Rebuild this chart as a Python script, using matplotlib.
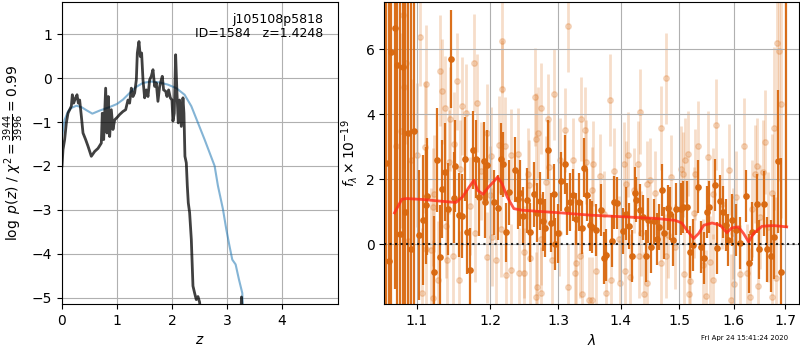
import matplotlib
matplotlib.use('Agg')
import matplotlib.pyplot as plt
from matplotlib.ticker import FixedLocator, FixedFormatter, NullLocator

# ---------------------------------------------------------
## p(z) panel
z_pz = [0.0, 0.018, 0.048, 0.079, 0.109, 0.139, 0.17, 0.188, 0.212, 0.248, 0.273, 0.297,
        0.321, 0.352, 0.382, 0.43, 0.473, 0.533, 0.594, 0.655, 0.715, 0.733, 0.758, 0.794,
        0.818, 0.842, 0.867, 0.897, 0.927, 0.958, 1.0, 1.048, 1.109, 1.158, 1.2, 1.23,
        1.261, 1.291, 1.321, 1.352, 1.37, 1.4, 1.424, 1.448, 1.473, 1.503, 1.533, 1.564,
        1.594, 1.624, 1.655, 1.685, 1.715, 1.745, 1.776, 1.806, 1.824, 1.848, 1.885, 1.909,
        1.939, 1.97, 2.0, 2.018, 2.042, 2.067, 2.091, 2.115, 2.139, 2.17, 2.2, 2.218,
        2.236, 2.261, 2.279, 2.297, 2.321, 2.352, 2.382, 2.412, 2.442, 2.473, 2.503, 2.55,
        3.24, 3.265, 3.29, 3.5, 5.0]
logpz = [-2.0, -1.63, -1.4, -1.02, -0.8, -0.72, -0.64, -0.38, -0.57, -0.45, -0.38, -0.57,
         -0.5, -0.87, -1.25, -1.4, -1.55, -1.78, -1.67, -1.6, -1.48, -0.8, -1.4, -0.23,
         -1.25, -0.42, -1.33, -0.72, -1.17, -0.95, -0.9, -0.83, -0.76, -0.72, -0.5, -0.57,
         -0.23, -0.42, -0.34, -0.04, 0.57, 0.83, 0.49, 0.57, -0.04, -0.45, -0.27, -0.42,
         -0.04, 0.04, 0.19, -0.19, -0.11, -0.53, -0.19, -0.04, 0.04, -0.27, -0.3, -0.42,
         -0.27, -0.45, -0.5, -0.98, -0.8, 0.53, -0.34, -1.02, -0.5, -1.1, -0.45, -0.8,
         -1.78, -1.93, -2.45, -2.84, -3.06, -3.67, -4.73, -4.89, -5.04, -4.97, -5.1, -5.8,
         -5.8, -4.98, -5.8, -7.0, -9.0]

z_prior = [0.0, 0.048, 0.109, 0.17, 0.261, 0.352, 0.442, 0.552, 0.685, 0.867, 1.0, 1.109,
           1.23, 1.352, 1.473, 1.624, 1.776, 1.927, 2.079, 2.23, 2.352, 2.473, 2.594, 2.685,
           2.776, 2.836, 2.927, 2.988, 3.048, 3.097, 3.158, 3.218, 3.279, 3.3]
log_prior = [-1.33, -0.95, -0.76, -0.68, -0.63, -0.66, -0.73, -0.81, -0.74, -0.66, -0.59, -0.49,
             -0.34, -0.2, -0.11, -0.08, -0.1, -0.15, -0.23, -0.38, -0.64, -1.02, -1.4, -1.7,
             -2.0, -2.45, -2.98, -3.44, -3.83, -4.13, -4.24, -4.58, -4.89, -5.5]

# ---------------------------------------------------------
## spectrum panel (dark = binned, light = other)
dark_wave = [1.0610, 1.0640, 1.0676, 1.0720, 1.0753, 1.0787, 1.0817, 1.0855, 1.0893, 1.0931, 1.0966,
             1.1035, 1.1082, 1.1117, 1.1140, 1.1226, 1.1266, 1.1307, 1.1334, 1.1375, 1.1416, 1.1457,
             1.1497, 1.1516, 1.1561, 1.1606, 1.1643, 1.1674, 1.1715, 1.1756, 1.1802, 1.1837, 1.1905, 1.1928,
             1.1955, 1.2059, 1.2109, 1.2148, 1.2188, 1.2222, 1.2272, 1.2354, 1.2394, 1.2434, 1.2473,
             1.2527, 1.2582, 1.2641, 1.2679, 1.2724, 1.2774, 1.2797, 1.2842, 1.2886, 1.2931, 1.2960,
             1.2996, 1.3048, 1.3100, 1.3144, 1.3180, 1.3228, 1.3276, 1.3324, 1.3372, 1.3410, 1.3451, 1.3499,
             1.3526, 1.3590, 1.3670, 1.3734, 1.3766, 1.3850, 1.3893, 1.3936, 1.4034, 1.4091, 1.4137,
             1.4181, 1.4233, 1.4257, 1.4318, 1.4370, 1.4428, 1.4455, 1.4514, 1.4570, 1.4605, 1.4656,
             1.4695, 1.4742, 1.4798, 1.4845, 1.4890, 1.4947, 1.5040, 1.5077, 1.5139, 1.5187, 1.5242,
             1.5346, 1.5388, 1.5451, 1.5498, 1.5548, 1.5645, 1.5694, 1.5744, 1.5804, 1.5853, 1.5901,
             1.5963, 1.6051, 1.6123, 1.6226, 1.6285, 1.6343, 1.6441, 1.6493, 1.6585, 1.6649, 1.6713,
             1.6779, 1.6869, 1.6928, 1.7021]
dark_flux = [2.5, -0.5, 5.92, 6.64, 5.52, 0.31, 5.46, 0.99, 3.43, -0.15, 3.48,
             0.28, 0.76, 1.2, 1.48, -0.84, 2.6, -0.4, 1.71, 2.23, 1.09, 5.69,
             1.44, 2.41, 0.9, 0.87, 2.63, 0.38, -0.79, 2.91, 2.63, 1.46, 2.56, 1.3,
             2.43, 1.3, 1.13, 2.63, 2.46, 0.37, 1.61, 2.3, 1.39, 1.58, 0.87,
             1.36, 0.37, 1.54, 0.98, 1.34, 0.71, 0.51, 2.91, 0.67, 1.56, 0.0,
             0.34, 1.94, 2.46, 1.1, 1.3, 1.51, 0.77, 1.3, 0.52, 2.36, 1.53, 0.59,
             0.54, 0.44, 1.07, -0.43, -0.33, 0.11, 1.29, 1.27, 0.42, 0.95, 0.56,
             -0.36, 1.58, 1.38, 1.07, 0.83, -0.36, 0.74, -0.07, 0.71, 0.18, 0.54,
             1.68, 0.34, 1.13, 0.95, 0.15, 1.1, 1.1, 1.15, 1.15, -0.23, -0.02,
             1.78, -0.07, -0.43, 1.0, 1.15, 1.82, -0.12, 1.34, 1.0, 0.59, 0.15,
             0.76, 0.44, 0.05, 1.5, -0.58, 0.39, 1.25, -0.15, 1.25, -0.15, -0.36,
             0.23, 2.55, -0.84, 8.5]
dark_err = [8, 8, 8, 8, 8, 8, 8, 8, 8, 8, 8,
            2.0, 2.0, 1.8, 1.8, 1.7, 1.6, 1.6, 1.5, 1.5, 1.4, 1.5,
            1.4, 1.4, 1.3, 1.3, 1.3, 1.3, 1.3, 1.2, 1.2, 1.2, 1.2, 1.1,
            1.1, 1.0, 1.0, 1.1, 1.0, 0.9, 1.0, 1.0, 0.9, 1.0, 0.9,
            1.0, 0.9, 1.0, 0.9, 0.9, 0.9, 0.9, 0.9, 0.9, 0.9, 0.8,
            0.9, 0.9, 0.9, 0.8, 0.9, 0.8, 0.8, 0.9, 0.8, 0.9, 0.8, 0.8,
            0.8, 0.8, 0.8, 0.8, 0.8, 0.8, 0.8, 0.8, 0.7, 0.8, 0.7,
            0.8, 0.8, 0.7, 0.8, 0.7, 0.8, 0.7, 0.8, 0.7, 0.8, 0.7,
            0.8, 0.8, 0.7, 0.8, 0.8, 0.8, 0.8, 0.8, 0.8, 0.8, 0.8,
            0.8, 0.8, 0.8, 0.8, 0.8, 0.8, 0.8, 0.8, 0.8, 0.8, 0.8,
            0.8, 0.8, 0.8, 0.8, 0.9, 0.9, 0.9, 0.9, 1.0, 1.0, 1.1,
            1.3, 2.2, 3.5, 8.0]

light_wave = [1.0817, 1.1045, 1.0868, 1.1122, 1.0838, 1.1334, 1.1303, 1.1768, 1.1538, 1.1371,
              1.1439, 1.1606, 1.1666, 1.1810, 1.0736, 1.0796, 1.1108, 1.1493, 1.0924, 1.1000,
              1.1425, 1.1575, 1.1870, 1.1230, 1.1217, 1.1715, 1.1783, 1.1394, 1.0890, 1.1122,
              1.1190, 1.1400, 1.1484, 1.1280, 1.1068, 1.1212, 1.1561, 1.1959,
              1.2162, 1.2172, 1.2655, 1.2738, 1.2931, 1.3159, 1.2842, 1.2664, 1.2689, 1.3100,
              1.3356, 1.3426, 1.1955, 1.2124, 1.2207, 1.2296, 1.2394, 1.2010, 1.3037, 1.3239,
              1.3436, 1.2862, 1.2542, 1.2812, 1.2567, 1.2000, 1.2148, 1.2025, 1.2738, 1.2493,
              1.2582, 1.2074, 1.2296, 1.2222, 1.2419, 1.2483, 1.2911, 1.3276, 1.3346, 1.3266,
              1.2679, 1.2664, 1.2748, 1.3159, 1.3372, 1.3490, 1.3011,
              1.3818, 1.4317, 1.4774, 1.4676, 1.5150, 1.4113, 1.4284, 1.4062, 1.3550, 1.3895,
              1.3655, 1.4488, 1.4860, 1.5029, 1.5108, 1.5066, 1.3534, 1.4091, 1.4216, 1.4445,
              1.4575, 1.3719, 1.3974, 1.4346, 1.4802, 1.4934, 1.3602, 1.3840, 1.3761, 1.3989,
              1.4159, 1.4074, 1.4445, 1.4387, 1.4688, 1.4762, 1.5095, 1.5187, 1.5169, 1.3534, 1.4306,
              1.5663, 1.5333, 1.5529, 1.6201, 1.6604, 1.6844, 1.6883, 1.6928, 1.6785, 1.6441,
              1.5914, 1.6409, 1.6571, 1.5285, 1.5620, 1.6732, 1.6051, 1.5773, 1.5272, 1.6343,
              1.6507, 1.6669, 1.5987, 1.5561, 1.5425, 1.5608, 1.6117, 1.6246, 1.6000, 1.6474,
              1.5487, 1.6312, 1.5956, 1.6732, 1.6829]
light_flux = [7.05, 6.38, 5.59, 4.93, 4.85, 4.7, 5.34, 5.58, 5.01, 4.19,
              3.86, 4.26, 4.04, 4.35, 3.02, 3.5, 2.98, 3.09, 2.58, 2.75,
              2.54, 2.33, 2.25, 1.56, 1.15, 1.18, 0.34, 0.57, 0.11, -0.15,
              -0.17, -0.48, -0.36, -1.09, -1.5, -1.65, -1.09, -0.4,
              6.25, 4.77, 4.54, 4.19, 4.62, 6.7, 3.85, 3.24, 3.43, 3.52,
              3.85, 3.53, 3.43, 3.07, 3.02, 2.76, 2.79, 2.71, 2.6, 2.58,
              2.53, 2.38, 2.17, 1.92, 1.82, 1.51, 0.49, 0.23, 0.16, -0.23,
              -0.43, -0.48, -0.77, -0.94, -0.89, -0.89, -0.48, -0.58, -0.36, -0.87,
              -1.32, -1.62, -1.48, -1.3, -1.52, -1.7, 0.34,
              4.44, 4.08, 5.11, 3.58, 2.79, 2.76, 2.48, 2.46, 2.48, 2.27,
              2.09, 1.97, 2.07, 2.33, 2.6, 2.15, 1.68, 1.87, 1.66, 1.87,
              1.58, 0.95, 0.18, 0.34, 0.28, -0.07, -0.81, -1.09, -1.5, -1.17,
              -0.99, -0.82, -1.19, -1.52, -0.58, -0.36, -0.91, -1.11, -1.52, -1.7, -0.36,
              3.68, 3.01, 2.7, 3.01, 3.16, 6.2, 5.95, 4.32, 3.57, 2.4,
              2.3, 2.17, 2.22, 2.15, 1.56, 1.58, 1.46, 1.25, 0.97, 1.1,
              0.84, 0.54, 0.34, -0.53, -0.63, -1.09, -0.91, -0.87, -1.22, -1.28,
              -1.58, -1.6, -1.7, -1.6, -1.04]
light_err = [2.0, 1.5, 2.5, 1.8, 2.5, 1.6, 1.7, 1.5, 1.5, 1.6,
             1.6, 1.5, 1.5, 1.5, 3.0, 3.0, 2.0, 1.6, 2.5, 2.2,
             1.6, 1.5, 1.5, 1.8, 1.8, 1.5, 1.5, 1.6, 2.5, 2.0,
             1.9, 1.6, 1.6, 1.8, 2.0, 1.8, 1.5, 1.4,
             1.6, 1.5, 1.5, 1.4, 1.4, 1.4, 1.4, 1.4, 1.4, 1.3,
             1.3, 1.3, 1.5, 1.5, 1.5, 1.4, 1.4, 1.5, 1.3, 1.3,
             1.3, 1.4, 1.4, 1.4, 1.4, 1.5, 1.5, 1.5, 1.4, 1.4,
             1.4, 1.5, 1.4, 1.4, 1.4, 1.4, 1.4, 1.3, 1.3, 1.3,
             1.4, 1.4, 1.4, 1.3, 1.3, 1.3, 1.3,
             1.4, 1.3, 1.4, 1.3, 1.3, 1.3, 1.3, 1.3, 1.3, 1.3,
             1.3, 1.3, 1.3, 1.3, 1.3, 1.3, 1.3, 1.3, 1.3, 1.3,
             1.3, 1.3, 1.3, 1.3, 1.3, 1.3, 1.3, 1.3, 1.3, 1.3,
             1.3, 1.3, 1.3, 1.3, 1.3, 1.3, 1.3, 1.3, 1.3, 1.3, 1.3,
             1.4, 1.4, 1.4, 1.5, 1.6, 3.5, 4.0, 3.5, 2.5, 1.5,
             1.4, 1.5, 1.6, 1.4, 1.4, 1.8, 1.4, 1.4, 1.4, 1.5,
             1.6, 1.7, 1.4, 1.4, 1.4, 1.4, 1.5, 1.5, 1.4, 1.6,
             1.4, 1.5, 1.4, 1.8, 2.5]

model_wave = [1.0715, 1.0809, 1.0873, 1.1090, 1.1317, 1.1521, 1.1612, 1.1702, 1.1770, 1.1824,
              1.1897, 1.1973, 1.2044, 1.2103, 1.2168, 1.2242, 1.2339, 1.2463, 1.2980, 1.3510,
              1.4045, 1.4589, 1.4931, 1.5048, 1.5139, 1.5260, 1.5352, 1.5443, 1.5597, 1.5749,
              1.5872, 1.5963, 1.6090, 1.6187, 1.6285, 1.6382, 1.6546, 1.6773, 1.7035]
model_flux = [0.97, 1.39, 1.41, 1.38, 1.33, 1.29, 1.46, 1.76, 1.97, 1.66,
              1.54, 1.76, 1.92, 2.07, 1.87, 1.46, 1.1, 1.05, 0.98, 0.9,
              0.85, 0.8, 0.74, 0.66, 0.44, 0.18, 0.34, 0.59, 0.66, 0.59,
              0.36, 0.51, 0.54, 0.34, 0.08, 0.34, 0.56, 0.58, 0.54]

xticks_wave = [1.1, 1.2, 1.3, 1.4, 1.5, 1.6, 1.7]

# ---------------------------------------------------------
fig = plt.figure(figsize=(8, 3.5), dpi=100)
ax1 = fig.add_axes([0.0775, 0.1314, 0.345, 0.8629])
ax2 = fig.add_axes([0.4804, 0.1314, 0.5187, 0.8629])

# p(z)
ax1.plot(z_pz, logpz, color='k', alpha=0.75, lw=2, zorder=3)
ax1.plot(z_prior, log_prior, color='tab:blue', alpha=0.55, lw=1.5, zorder=2)
ax1.set_xlim(0, 5.02)
ax1.set_ylim(-5.14, 1.73)
ax1.set_xticks([0, 1, 2, 3, 4])
ax1.set_yticks([-5, -4, -3, -2, -1, 0, 1])
ax1.grid(True)
ax1.set_xlabel('$z$')
ax1.set_ylabel(r'$\log\ p(z)$ / $\chi^2=\frac{3944}{3996}=0.99$')
ax1.text(0.945, 0.965, 'j105108p5818\nID=1584   z=1.4248', ha='right', va='top',
         transform=ax1.transAxes, fontsize=9, linespacing=1.15)

# spectrum
orange = '#d9680f'
ax2.errorbar(light_wave, light_flux, yerr=light_err, fmt='o', color=orange, ms=4,
             elinewidth=2, alpha=0.22, zorder=1)
ax2.errorbar(dark_wave, dark_flux, yerr=dark_err, fmt='o', color=orange, ms=3.8,
             elinewidth=1.6, alpha=0.95, zorder=2)
ax2.plot(model_wave, model_flux, color='#ff2a1a', alpha=0.8, lw=2, zorder=3)
ax2.axhline(0, color='k', linestyle=':', lw=1.5, alpha=0.85, zorder=4)

ax2.set_xscale('log')
ax2.set_xlim(1.0587, 1.729)
ax2.set_ylim(-1.83, 7.45)
ax2.xaxis.set_major_locator(FixedLocator(xticks_wave))
ax2.xaxis.set_major_formatter(FixedFormatter(['%.1f' % w for w in xticks_wave]))
ax2.xaxis.set_minor_locator(NullLocator())
ax2.set_yticks([0, 2, 4, 6])
ax2.grid(True)
ax2.set_xlabel(r'$\lambda$')
ax2.set_ylabel(r'$f_\lambda\times10^{-19}$')

fig.text(0.985, 0.025, 'Fri Apr 24 15:41:24 2020', ha='right', va='bottom', fontsize=5)

fig.savefig('out.png', dpi=100)
